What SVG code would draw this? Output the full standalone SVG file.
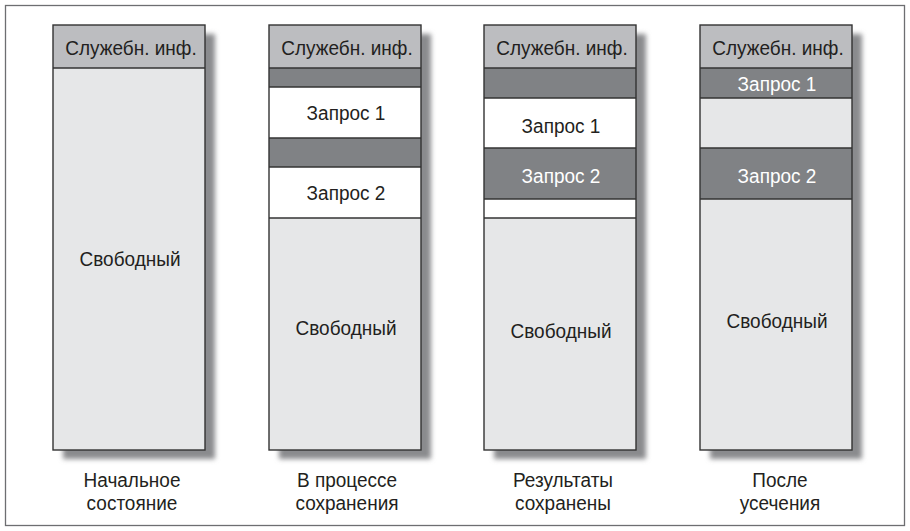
<svg xmlns="http://www.w3.org/2000/svg" width="910" height="531" viewBox="0 0 910 531">
<style>
text{font-family:"Liberation Sans",Arial,sans-serif;font-size:19px;fill:#231f20;text-anchor:middle}
.w{fill:#ffffff}
.hdr{fill:#bcbdc0}
.dark{fill:#808285}
.free{fill:#e6e7e8}
.white{fill:#ffffff}
.ln{stroke:#333;stroke-width:1.4;fill:none}
.shadow{fill:#8a8b8e;filter:url(#blur)}
</style>
<defs>
<filter id="blur" x="-20%" y="-20%" width="140%" height="140%">
<feGaussianBlur stdDeviation="2.4"/>
</filter>
</defs>
<rect width="910" height="531" fill="#fff"/>
<rect x="5.5" y="5.5" width="899" height="520" fill="none" stroke="#6d6e71" stroke-width="1.3"/>

<g id="col1">
<rect class="shadow" x="63" y="34" width="152" height="425"/>
<rect class="free" x="53" y="25" width="152" height="425"/>
<rect class="hdr" x="53" y="25" width="152" height="43"/>
<line class="ln" x1="53" y1="68" x2="205" y2="68"/>
<rect class="ln" x="53" y="25" width="152" height="425"/>
<text transform="translate(131,55) scale(1,1.08)">Служебн. инф.</text>
<text transform="translate(130,266) scale(1,1.08)">Свободный</text>
<text transform="translate(132,487) scale(1,1.08)">Начальное</text>
<text transform="translate(132,510) scale(1,1.08)">состояние</text>
</g>

<g id="col2">
<rect class="shadow" x="279" y="34" width="152" height="425"/>
<rect class="free" x="269" y="25" width="152" height="425"/>
<rect class="hdr" x="269" y="25" width="152" height="43"/>
<rect class="dark" x="269" y="68" width="152" height="19"/>
<rect class="white" x="269" y="87" width="152" height="51"/>
<rect class="dark" x="269" y="138" width="152" height="29"/>
<rect class="white" x="269" y="167" width="152" height="51"/>
<line class="ln" x1="269" y1="68" x2="421" y2="68"/>
<line class="ln" x1="269" y1="87" x2="421" y2="87"/>
<line class="ln" x1="269" y1="138" x2="421" y2="138"/>
<line class="ln" x1="269" y1="167" x2="421" y2="167"/>
<line class="ln" x1="269" y1="218" x2="421" y2="218"/>
<rect class="ln" x="269" y="25" width="152" height="425"/>
<text transform="translate(347,55) scale(1,1.08)">Служебн. инф.</text>
<text transform="translate(346,120) scale(1,1.08)">Запрос 1</text>
<text transform="translate(346,200) scale(1,1.08)">Запрос 2</text>
<text transform="translate(346,335) scale(1,1.08)">Свободный</text>
<text transform="translate(347,487) scale(1,1.08)">В процессе</text>
<text transform="translate(347,510) scale(1,1.08)">сохранения</text>
</g>

<g id="col3">
<rect class="shadow" x="494" y="34" width="152" height="425"/>
<rect class="free" x="484" y="25" width="152" height="425"/>
<rect class="hdr" x="484" y="25" width="152" height="43"/>
<rect class="dark" x="484" y="68" width="152" height="30"/>
<rect class="white" x="484" y="98" width="152" height="50"/>
<rect class="dark" x="484" y="148" width="152" height="51"/>
<rect class="white" x="484" y="199" width="152" height="19"/>
<line class="ln" x1="484" y1="68" x2="636" y2="68"/>
<line class="ln" x1="484" y1="98" x2="636" y2="98"/>
<line class="ln" x1="484" y1="148" x2="636" y2="148"/>
<line class="ln" x1="484" y1="199" x2="636" y2="199"/>
<line class="ln" x1="484" y1="218" x2="636" y2="218"/>
<rect class="ln" x="484" y="25" width="152" height="425"/>
<text transform="translate(562,55) scale(1,1.08)">Служебн. инф.</text>
<text transform="translate(561,133) scale(1,1.08)">Запрос 1</text>
<text class="w" transform="translate(561,183) scale(1,1.08)">Запрос 2</text>
<text transform="translate(561,338) scale(1,1.08)">Свободный</text>
<text transform="translate(563,487) scale(1,1.08)">Результаты</text>
<text transform="translate(563,510) scale(1,1.08)">сохранены</text>
</g>

<g id="col4">
<rect class="shadow" x="710" y="34" width="152" height="425"/>
<rect class="free" x="700" y="25" width="152" height="425"/>
<rect class="hdr" x="700" y="25" width="152" height="43"/>
<rect class="dark" x="700" y="68" width="152" height="30"/>
<rect class="dark" x="700" y="148" width="152" height="51"/>
<line class="ln" x1="700" y1="68" x2="852" y2="68"/>
<line class="ln" x1="700" y1="98" x2="852" y2="98"/>
<line class="ln" x1="700" y1="148" x2="852" y2="148"/>
<line class="ln" x1="700" y1="199" x2="852" y2="199"/>
<rect class="ln" x="700" y="25" width="152" height="425"/>
<text transform="translate(778,55) scale(1,1.08)">Служебн. инф.</text>
<text class="w" transform="translate(777,91) scale(1,1.08)">Запрос 1</text>
<text class="w" transform="translate(777,183) scale(1,1.08)">Запрос 2</text>
<text transform="translate(777,328) scale(1,1.08)">Свободный</text>
<text transform="translate(780,487) scale(1,1.08)">После</text>
<text transform="translate(780,510) scale(1,1.08)">усечения</text>
</g>
</svg>
